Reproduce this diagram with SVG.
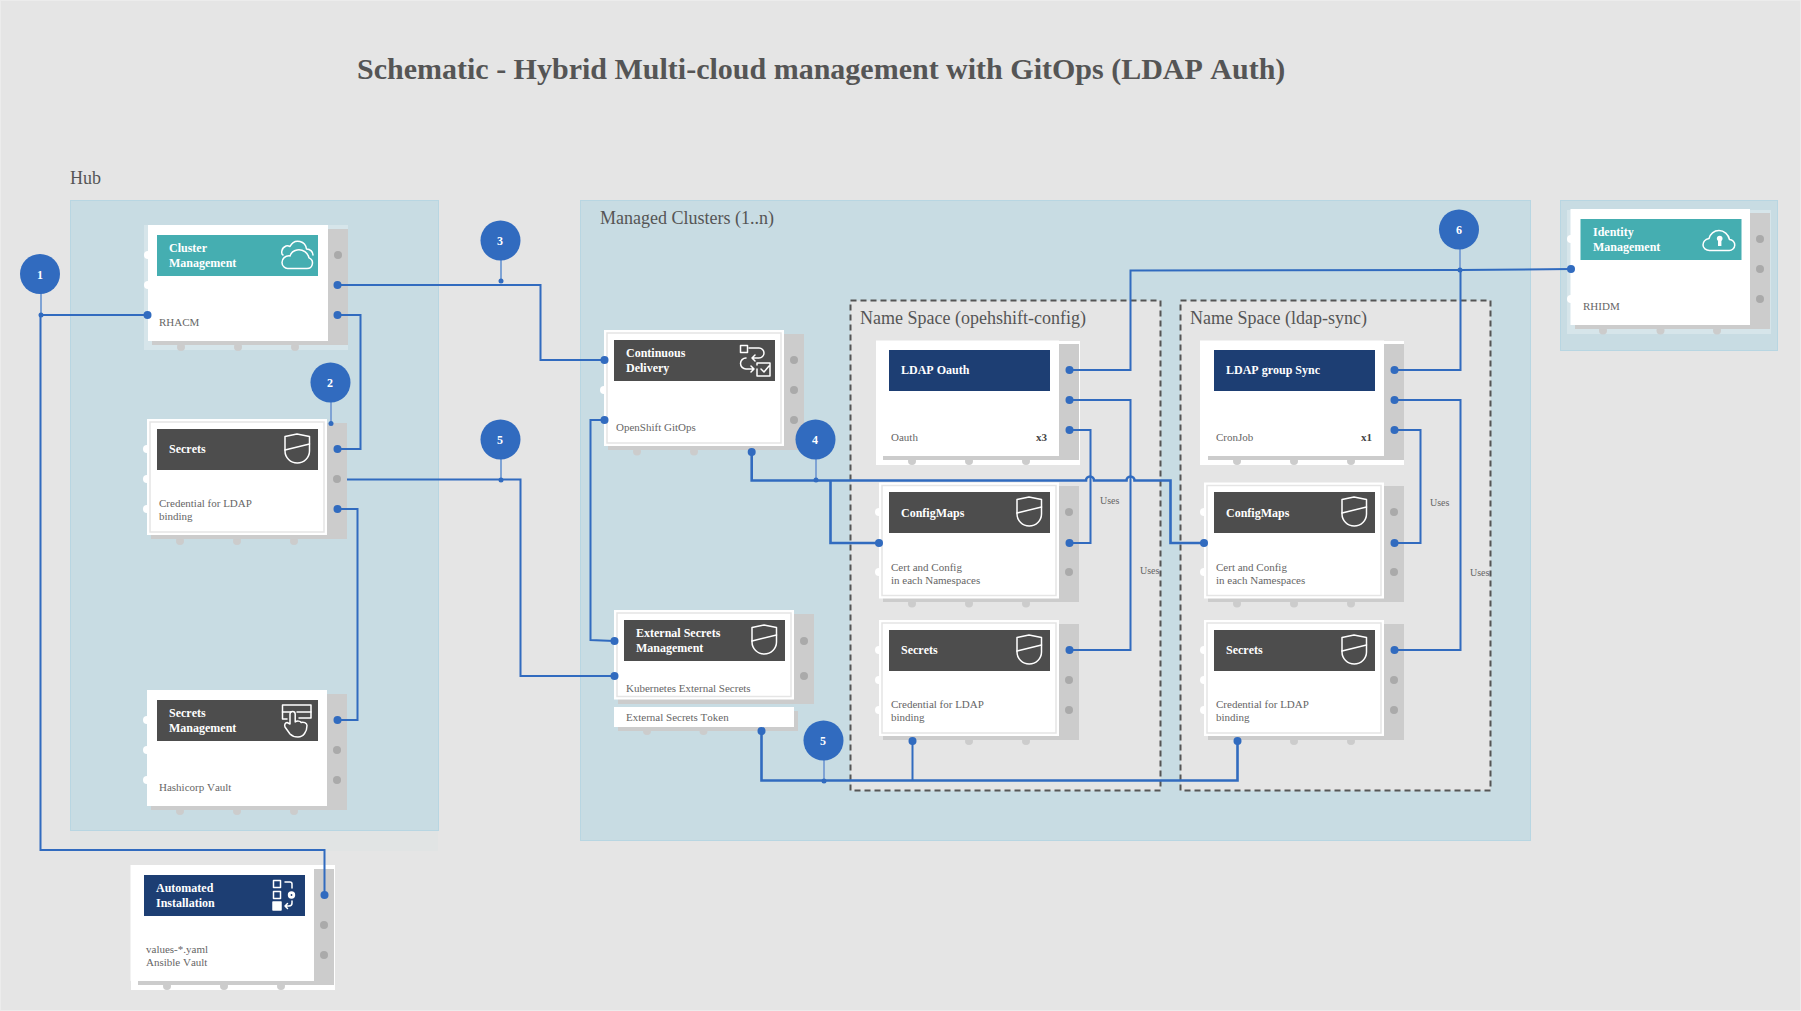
<svg xmlns="http://www.w3.org/2000/svg" xmlns:xlink="http://www.w3.org/1999/xlink" width="1801" height="1011" viewBox="0 0 1801 1011" style="display:block">
<style>
text{font-family:"Liberation Serif","Times New Roman",serif;font-kerning:none}
.bg{fill:#e5e5e5;stroke:#ececec;stroke-width:1}
.zone{fill:#c8dce3;stroke:#b8d6e2;stroke-width:1}
.ns{fill:#e5e5e5;stroke:#555;stroke-width:2;stroke-dasharray:6 4}
.zl{font-size:18px;fill:#555}
.title{font-size:30px;font-weight:bold;fill:#555}
.glow{fill:#fff;fill-opacity:.25}
.glow2{fill:#fff}
.sh{fill:#ccc}
.card{fill:#fff}
.inner{fill:none;stroke:#e5e5e5;stroke-width:1.5}
.teal{fill:#45aeb1}.dark{fill:#4d4d4d}.navy{fill:#1d3e73}
.h{font-size:12px;font-weight:bold;fill:#fff}
.s{font-size:11px;fill:#666}
.x{font-size:11px;font-weight:bold;fill:#444;text-anchor:end}
.u{font-size:10px;fill:#666}
.rd{fill:#aaa}.bd{fill:#ccc}.ld{fill:#fff}
.ic{fill:none;stroke:#fff;stroke-width:1.5;stroke-linejoin:round;stroke-linecap:round}
.icf{fill:#fff}
.c{fill:none;stroke:#316bbf;stroke-width:2}
.t{stroke-width:2.600}
.p{fill:#316bbf}
.stem{fill:none;stroke:#7fa3d4;stroke-width:2}
.bn{font-size:12px;font-weight:bold;fill:#fff;text-anchor:middle}
</style>
<defs>
<g id="i-cloud" class="ic"><path d="M13 20c-2-1-2-7 3-9 2-.5 3 0 4 .5 2-4 6-6 10-5 4 1 6 4 6.500 7.500 4 0 6.500 3 6.500 6"/><path d="M17.500 33.500H37a5.500 5.500 0 0 0 2-10.600c-1-5-6-9-12-8-3 .5-6 3-7 6-5-.5-8 3-8 6.500 0 3.500 3 6 5.500 6z"/></g>
<g id="i-shield" class="ic"><path d="M15 7.500L27 5l12.500 2.500V22a12.250 12 0 0 1-24.500 0Z"/><path d="M15 21l24.500-6"/></g>
<g id="i-hand" class="ic"><path d="M21 12H12.500V5H41v7H27"/><path d="M12.500 12v7H17M29 18h12v-6"/><path d="M20 24V14a2.600 2.600 0 0 1 5.200 0v8c2-1.500 5-1 6 .5 2-1 5.800 .5 5.800 3 0 6-3.500 11.500-9 11.500-3 0-6-1-8-3l-5-7c-1-2.500.5-4.500 2-4.500z"/></g>
<g id="i-auto" class="ic"><rect x="13.500" y="5.500" width="7" height="7"/><rect x="13.500" y="16.500" width="7" height="7"/><rect x="13" y="27" width="8" height="8" class="icf"/><path d="M25 7h5a2 2 0 0 1 2 2v4M32 26v2a3 3 0 0 1-3 3h-4M27.500 28.500L25 31l2.500 2.500"/><circle cx="31.500" cy="20" r="2.300" stroke-width="2.800" stroke-linecap="butt"/></g>
<g id="i-cd" class="ic"><rect x="10.500" y="5.500" width="7" height="7"/><path d="M19 8h10a5 5 0 0 1 0 10h-7M25 15l-3 3 3 3M16 18a5 5 0 0 0 0 11h8M21 26l3 3-3 3"/><path d="M27 29v7h13V23H27v2M31 29l3 3 5-6"/></g>
<g id="i-lock"><path class="ic" d="M14 31.500h20a5.500 5.500 0 0 0 .5-11c-1-5-5.500-9-10.500-9-5 0-9 3.500-10 8-4 1-6 3.500-6 6.500 0 3 3 5.500 6.500 5.500z"/><circle class="icf" cx="24.700" cy="19.500" r="2.800"/><rect class="icf" x="23" y="20" width="3.400" height="7"/></g>
</defs>
<rect class="bg" x=".5" y=".5" width="1800" height="1010"/>
<text class="title" x="357" y="79">Schematic - Hybrid Multi-cloud management with GitOps (LDAP Auth)</text>

<g id="zones">
<rect x="70" y="830" width="368" height="21" fill="#e1e4e4"/>
<rect class="zone" x="70.500" y="200.500" width="368" height="630"/>
<rect class="zone" x="580.500" y="200.500" width="950" height="640"/>
<rect class="zone" x="1560.500" y="200.500" width="217" height="150"/>
<text class="zl" x="70" y="184">Hub</text>
<text class="zl" x="600" y="224">Managed Clusters (1..n)</text>
<rect class="ns" x="850.500" y="300.500" width="310" height="490"/>
<rect class="ns" x="1180.500" y="300.500" width="310" height="490"/>
<text class="zl" x="860" y="324">Name Space (opehshift-config)</text>
<text class="zl" x="1190" y="324">Name Space (ldap-sync)</text>
</g>

<g id="node-cluster-management">
<rect class="glow" x="144" y="225" width="204" height="125"/>
<circle class="ld" cx="148" cy="255" r="4"/><circle class="ld" cx="148" cy="285" r="4"/>
<circle class="bd" cx="181" cy="347" r="4"/><circle class="bd" cx="238" cy="347" r="4"/><circle class="bd" cx="295" cy="347" r="4"/>
<rect class="sh" x="152" y="229" width="196" height="116"/>
<rect class="card" x="148" y="225" width="180" height="116"/>
<circle class="rd" cx="338" cy="255" r="4"/>
<rect class="teal" x="157" y="235" width="161" height="41"/>
<use href="#i-cloud" x="270" y="235"/>
<text class="h" x="169" y="252">Cluster</text><text class="h" x="169" y="267">Management</text>
<text class="s" x="159" y="326">RHACM</text>
</g>

<g id="node-hub-secrets">
<circle class="ld" cx="147" cy="449" r="4"/><circle class="ld" cx="147" cy="479" r="4"/><circle class="ld" cx="147" cy="509" r="4"/>
<circle class="bd" cx="180" cy="541" r="4"/><circle class="bd" cx="237" cy="541" r="4"/><circle class="bd" cx="294" cy="541" r="4"/>
<rect class="sh" x="151" y="423" width="196" height="116"/>
<rect class="card" x="147" y="419" width="180" height="116"/>
<rect class="inner" x="150" y="422" width="174" height="110"/>
<circle class="rd" cx="337" cy="479" r="4"/>
<rect class="dark" x="157" y="429" width="161" height="41"/>
<use href="#i-shield" x="270" y="429"/>
<text class="h" x="169" y="453">Secrets</text>
<text class="s" x="159" y="507">Credential for LDAP</text><text class="s" x="159" y="520">binding</text>
</g>

<g id="node-secrets-management">
<circle class="ld" cx="147" cy="720" r="4"/><circle class="ld" cx="147" cy="750" r="4"/><circle class="ld" cx="147" cy="780" r="4"/>
<circle class="bd" cx="180" cy="811" r="4"/><circle class="bd" cx="237" cy="811" r="4"/><circle class="bd" cx="294" cy="811" r="4"/>
<rect class="sh" x="151" y="694" width="196" height="116"/>
<rect class="card" x="147" y="690" width="180" height="116"/>
<circle class="rd" cx="337" cy="750" r="4"/><circle class="rd" cx="337" cy="780" r="4"/>
<rect class="dark" x="157" y="700" width="161" height="41"/>
<use href="#i-hand" x="270" y="700"/>
<text class="h" x="169" y="717">Secrets</text><text class="h" x="169" y="732">Management</text>
<text class="s" x="159" y="791">Hashicorp Vault</text>
</g>

<g id="node-automated-installation">
<rect class="glow2" x="131" y="865" width="204" height="125"/>
<circle class="bd" cx="167" cy="986" r="4"/><circle class="bd" cx="224" cy="986" r="4"/><circle class="bd" cx="281" cy="986" r="4"/>
<rect class="sh" x="138" y="869" width="196" height="116"/>
<rect class="card" x="130.500" y="865" width="183.500" height="116"/>
<circle class="rd" cx="324" cy="925" r="4"/><circle class="rd" cx="324" cy="955" r="4"/>
<rect class="navy" x="144" y="875" width="161" height="41"/>
<use href="#i-auto" x="260" y="875"/>
<text class="h" x="156" y="892">Automated</text><text class="h" x="156" y="907">Installation</text>
<text class="s" x="146" y="953">values-*.yaml</text><text class="s" x="146" y="966">Ansible Vault</text>
</g>

<g id="node-continuous-delivery">
<circle class="ld" cx="604" cy="390" r="4"/>
<circle class="bd" cx="637" cy="451.500" r="4"/><circle class="bd" cx="694" cy="451.500" r="4"/>
<rect class="sh" x="608" y="334" width="196" height="116"/>
<rect class="card" x="604" y="330" width="180" height="116"/>
<rect class="inner" x="607" y="333" width="174" height="110"/>
<circle class="rd" cx="794" cy="360" r="4"/><circle class="rd" cx="794" cy="390" r="4"/><circle class="rd" cx="794" cy="420" r="4"/>
<rect class="dark" x="614" y="340" width="161" height="41"/>
<use href="#i-cd" x="730" y="340"/>
<text class="h" x="626" y="357">Continuous</text><text class="h" x="626" y="372">Delivery</text>
<text class="s" x="616" y="431">OpenShift GitOps</text>
</g>

<g id="node-external-secrets">
<circle class="bd" cx="647" cy="731" r="4"/><circle class="bd" cx="703.500" cy="731" r="4"/>
<rect class="sh" x="618" y="614" width="196" height="90"/>
<rect class="card" x="614" y="610" width="180" height="89.500"/>
<rect class="inner" x="617" y="613" width="174" height="83.500"/>
<circle class="rd" cx="804" cy="641" r="4"/><circle class="rd" cx="804" cy="676" r="4"/>
<rect class="dark" x="624" y="620" width="161" height="41"/>
<use href="#i-shield" x="737" y="620"/>
<text class="h" x="636" y="637">External Secrets</text><text class="h" x="636" y="652">Management</text>
<text class="s" x="626" y="691.500">Kubernetes External Secrets</text>
<rect class="sh" x="618" y="711" width="180" height="20"/>
<rect class="card" x="614" y="707" width="180" height="20"/>
<text class="s" x="626" y="720.700">External Secrets Token</text>
</g>

<g id="node-ldap-oauth">
<rect class="glow2" x="876" y="341" width="204" height="124"/>
<circle class="bd" cx="912" cy="461" r="4"/><circle class="bd" cx="969" cy="461" r="4"/><circle class="bd" cx="1026" cy="461" r="4"/>
<rect class="sh" x="883" y="344" width="196" height="116"/>
<rect class="card" x="876" y="340.500" width="183" height="115.500"/>
<rect class="navy" x="889" y="350" width="161" height="41"/>
<text class="h" x="901" y="374">LDAP Oauth</text>
<text class="s" x="891" y="441">Oauth</text><text class="x" x="1047" y="441">x3</text>
</g>

<g id="node-cfg-configmaps">
<circle class="ld" cx="879" cy="512" r="4"/><circle class="ld" cx="879" cy="572" r="4"/>
<circle class="bd" cx="912" cy="603.500" r="4"/><circle class="bd" cx="969" cy="603.500" r="4"/><circle class="bd" cx="1026" cy="603.500" r="4"/>
<rect class="sh" x="883" y="486" width="196" height="116"/>
<rect class="card" x="879" y="482.500" width="180" height="116"/>
<rect class="inner" x="882" y="485.500" width="174" height="110"/>
<circle class="rd" cx="1069" cy="512" r="4"/><circle class="rd" cx="1069" cy="572" r="4"/>
<rect class="dark" x="889" y="492" width="161" height="41"/>
<use href="#i-shield" x="1002" y="492"/>
<text class="h" x="901" y="517">ConfigMaps</text>
<text class="s" x="891" y="571">Cert and Config</text><text class="s" x="891" y="584">in each Namespaces</text>
</g>

<g id="node-cfg-secrets">
<circle class="ld" cx="879" cy="650" r="4"/><circle class="ld" cx="879" cy="680" r="4"/><circle class="ld" cx="879" cy="710" r="4"/>
<circle class="bd" cx="969" cy="741" r="4"/><circle class="bd" cx="1026" cy="741" r="4"/>
<rect class="sh" x="883" y="624" width="196" height="116"/>
<rect class="card" x="879" y="620" width="180" height="116"/>
<rect class="inner" x="882" y="623" width="174" height="110"/>
<circle class="rd" cx="1069" cy="680" r="4"/><circle class="rd" cx="1069" cy="710" r="4"/>
<rect class="dark" x="889" y="630" width="161" height="41"/>
<use href="#i-shield" x="1002" y="630"/>
<text class="h" x="901" y="654">Secrets</text>
<text class="s" x="891" y="708">Credential for LDAP</text><text class="s" x="891" y="721">binding</text>
</g>

<g id="node-ldap-group-sync">
<rect class="glow2" x="1200" y="341" width="204" height="124"/>
<circle class="bd" cx="1237" cy="461" r="4"/><circle class="bd" cx="1294" cy="461" r="4"/><circle class="bd" cx="1351" cy="461" r="4"/>
<rect class="sh" x="1208" y="344" width="196" height="116"/>
<rect class="card" x="1200" y="340.500" width="184" height="115.500"/>
<rect class="navy" x="1214" y="350" width="161" height="41"/>
<text class="h" x="1226" y="374">LDAP group Sync</text>
<text class="s" x="1216" y="441">CronJob</text><text class="x" x="1372" y="441">x1</text>
</g>

<g id="node-sync-configmaps">
<circle class="ld" cx="1204" cy="512" r="4"/><circle class="ld" cx="1204" cy="572" r="4"/>
<circle class="bd" cx="1237" cy="603.500" r="4"/><circle class="bd" cx="1294" cy="603.500" r="4"/><circle class="bd" cx="1351" cy="603.500" r="4"/>
<rect class="sh" x="1208" y="486" width="196" height="116"/>
<rect class="card" x="1204" y="482.500" width="180" height="116"/>
<rect class="inner" x="1207" y="485.500" width="174" height="110"/>
<circle class="rd" cx="1394" cy="512" r="4"/><circle class="rd" cx="1394" cy="572" r="4"/>
<rect class="dark" x="1214" y="492" width="161" height="41"/>
<use href="#i-shield" x="1327" y="492"/>
<text class="h" x="1226" y="517">ConfigMaps</text>
<text class="s" x="1216" y="571">Cert and Config</text><text class="s" x="1216" y="584">in each Namespaces</text>
</g>

<g id="node-sync-secrets">
<circle class="ld" cx="1204" cy="650" r="4"/><circle class="ld" cx="1204" cy="680" r="4"/><circle class="ld" cx="1204" cy="710" r="4"/>
<circle class="bd" cx="1294" cy="741" r="4"/><circle class="bd" cx="1351" cy="741" r="4"/>
<rect class="sh" x="1208" y="624" width="196" height="116"/>
<rect class="card" x="1204" y="620" width="180" height="116"/>
<rect class="inner" x="1207" y="623" width="174" height="110"/>
<circle class="rd" cx="1394" cy="680" r="4"/><circle class="rd" cx="1394" cy="710" r="4"/>
<rect class="dark" x="1214" y="630" width="161" height="41"/>
<use href="#i-shield" x="1327" y="630"/>
<text class="h" x="1226" y="654">Secrets</text>
<text class="s" x="1216" y="708">Credential for LDAP</text><text class="s" x="1216" y="721">binding</text>
</g>

<g id="node-identity-management">
<rect class="glow" x="1567" y="210" width="204" height="124"/>
<circle class="ld" cx="1571" cy="239" r="4"/><circle class="ld" cx="1571" cy="299" r="4"/>
<circle class="bd" cx="1603" cy="330.500" r="4"/><circle class="bd" cx="1660.500" cy="330.500" r="4"/><circle class="bd" cx="1717" cy="330.500" r="4"/>
<rect class="sh" x="1575" y="213" width="195" height="116"/>
<rect class="card" x="1570.500" y="209" width="179.500" height="116"/>
<circle class="rd" cx="1760" cy="239" r="4"/><circle class="rd" cx="1760" cy="269" r="4"/><circle class="rd" cx="1760" cy="299" r="4"/>
<rect class="teal" x="1580.500" y="219" width="161" height="41"/>
<use href="#i-lock" x="1695" y="219"/>
<text class="h" x="1593" y="236">Identity</text><text class="h" x="1593" y="251">Management</text>
<text class="s" x="1583" y="309.500">RHIDM</text>
</g>

<g id="connectors">
<path class="c" d="M147.500 315H40.500V850H324.500V895"/>
<path class="c" d="M337.500 285H540.500V360H604"/>
<path class="c" d="M337.500 315H360.500V449H337"/>
<path class="c" d="M347 479.500H520.500V676H614"/>
<path class="c" d="M337 509H357.500V720H337"/>
<path class="c" d="M604 420H590.500V640L614 641"/>
<path class="c t" d="M751.700 452V480.500H1086a4 4 0 0 1 8 0H1126.500a4 4 0 0 1 8 0H1170.500V543H1204"/>
<path class="c t" d="M830.500 480.500V543H879"/>
<path class="c" d="M1069 370H1130.500V270.500L1460 270L1570.500 269"/>
<path class="c" d="M1069 400H1130.500V650H1069"/>
<path class="c" d="M1069 430H1090.500V543H1069"/>
<path class="c t" d="M761.500 731V780.500H1237.500V741"/>
<path class="c" d="M912.500 780.500V741"/>
<path class="c" d="M1394 370H1460.500V270"/>
<path class="c" d="M1394 400H1460.500V650H1394"/>
<path class="c" d="M1394 430H1420.500V543H1394"/>
<g class="p">
<circle cx="147.500" cy="315" r="4"/><circle cx="324.500" cy="895" r="4"/>
<circle cx="337.500" cy="285" r="4"/><circle cx="337.500" cy="315" r="4"/>
<circle cx="337.500" cy="449" r="4"/><circle cx="337.500" cy="509" r="4"/><circle cx="337.500" cy="720" r="4"/>
<circle cx="604.500" cy="360" r="4"/><circle cx="604.500" cy="420" r="4"/><circle cx="751.700" cy="452" r="4"/>
<circle cx="614.500" cy="641" r="4"/><circle cx="614.500" cy="676" r="4"/><circle cx="761.500" cy="731" r="4"/>
<circle cx="1069.500" cy="370" r="4"/><circle cx="1069.500" cy="400" r="4"/><circle cx="1069.500" cy="430" r="4"/>
<circle cx="879" cy="543" r="4"/><circle cx="1069.500" cy="543" r="4"/><circle cx="1069.500" cy="650" r="4"/>
<circle cx="912.500" cy="741" r="4"/>
<circle cx="1394.500" cy="370" r="4"/><circle cx="1394.500" cy="400" r="4"/><circle cx="1394.500" cy="430" r="4"/>
<circle cx="1204" cy="543" r="4"/><circle cx="1394.500" cy="543" r="4"/><circle cx="1394.500" cy="650" r="4"/>
<circle cx="1237.500" cy="741" r="4"/><circle cx="1571" cy="269" r="4"/>
</g>
<text class="u" x="1100" y="504">Uses</text>
<text class="u" x="1140" y="574">Uses</text>
<text class="u" x="1430" y="506">Uses</text>
<text class="u" x="1470" y="576">Uses</text>
</g>

<g id="badge-1"><path class="stem" d="M41 290V315"/><circle class="p" cx="41" cy="315" r="2.500"/><circle class="p" cx="40" cy="274" r="20"/><text class="bn" x="40" y="278.500">1</text></g>
<g id="badge-2"><path class="stem" d="M331 398V423"/><circle class="p" cx="331" cy="423.500" r="2.500"/><circle class="p" cx="330.500" cy="382.500" r="20"/><text class="bn" x="330" y="387">2</text></g>
<g id="badge-3"><path class="stem" d="M501 256V281"/><circle class="p" cx="501" cy="281" r="2.500"/><circle class="p" cx="500.500" cy="240.500" r="20"/><text class="bn" x="500" y="245">3</text></g>
<g id="badge-5a"><path class="stem" d="M501 455V480"/><circle class="p" cx="501" cy="480" r="2.500"/><circle class="p" cx="500.500" cy="439.500" r="20"/><text class="bn" x="500" y="444">5</text></g>
<g id="badge-4"><path class="stem" d="M816 455V480"/><circle class="p" cx="816" cy="480" r="2.500"/><circle class="p" cx="815.500" cy="439.500" r="20"/><text class="bn" x="815" y="444">4</text></g>
<g id="badge-5b"><path class="stem" d="M824 756V781"/><circle class="p" cx="824" cy="781" r="2.500"/><circle class="p" cx="823.500" cy="740.500" r="20"/><text class="bn" x="823" y="745">5</text></g>
<g id="badge-6"><path class="stem" d="M1460 245V270"/><circle class="p" cx="1460" cy="270" r="2.500"/><circle class="p" cx="1459" cy="229.500" r="20"/><text class="bn" x="1459" y="234">6</text></g>
</svg>
